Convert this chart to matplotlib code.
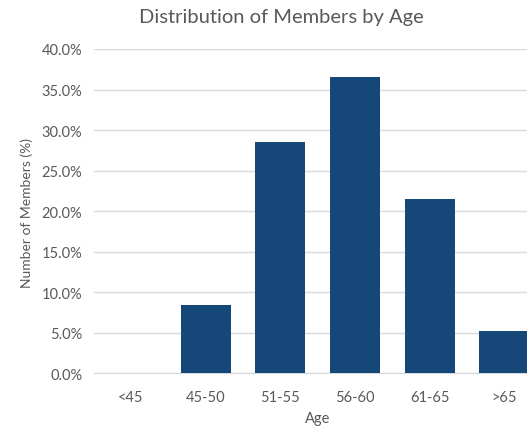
import matplotlib
matplotlib.use("Agg")
import matplotlib.pyplot as plt
from matplotlib.ticker import PercentFormatter, MultipleLocator

categories = ["<45", "45-50", "51-55", "56-60", "61-65", ">65"]
values = [0.0, 8.4, 28.5, 36.6, 21.5, 5.2]

plt.rcParams['font.family'] = ['Lato', 'DejaVu Sans']
txt = '#595959'
bar_color = '#154878'
grid = '#d9d9d9'

fig = plt.figure(figsize=(5.27, 4.27), dpi=100)
ax = fig.add_axes([93.5/527, 1-374.3/427, 448.2/527, 324.3/427])
x = range(len(categories))
ax.bar(x, values, width=0.67, color=bar_color, zorder=3)
ax.set_xlim(-0.5, len(categories)-0.5)
ax.set_ylim(0, 40)
ax.yaxis.set_major_locator(MultipleLocator(5))
ax.yaxis.set_major_formatter(PercentFormatter(decimals=1))
ax.set_xticks(list(x))
ax.set_xticklabels(categories)
ax.grid(axis='y', color=grid, linewidth=1, zorder=0)
for s in ['top', 'right', 'left']:
    ax.spines[s].set_visible(False)
ax.spines['bottom'].set_color(grid)
ax.tick_params(axis='both', length=0, colors=txt, labelsize=10.5)
ax.tick_params(axis='x', pad=12)
ax.tick_params(axis='y', pad=8)
ax.set_xlabel('Age', color=txt, fontsize=10.5, labelpad=5)
fig.text(27/527, 1-212.5/427, 'Number of Members (%)', rotation=90, ha='center', va='center',
         color=txt, fontsize=10)
fig.text(281/527, 1-18/427, 'Distribution of Members by Age', ha='center', va='center',
         color=txt, fontsize=14.5)
fig.savefig('out.png', dpi=100)
